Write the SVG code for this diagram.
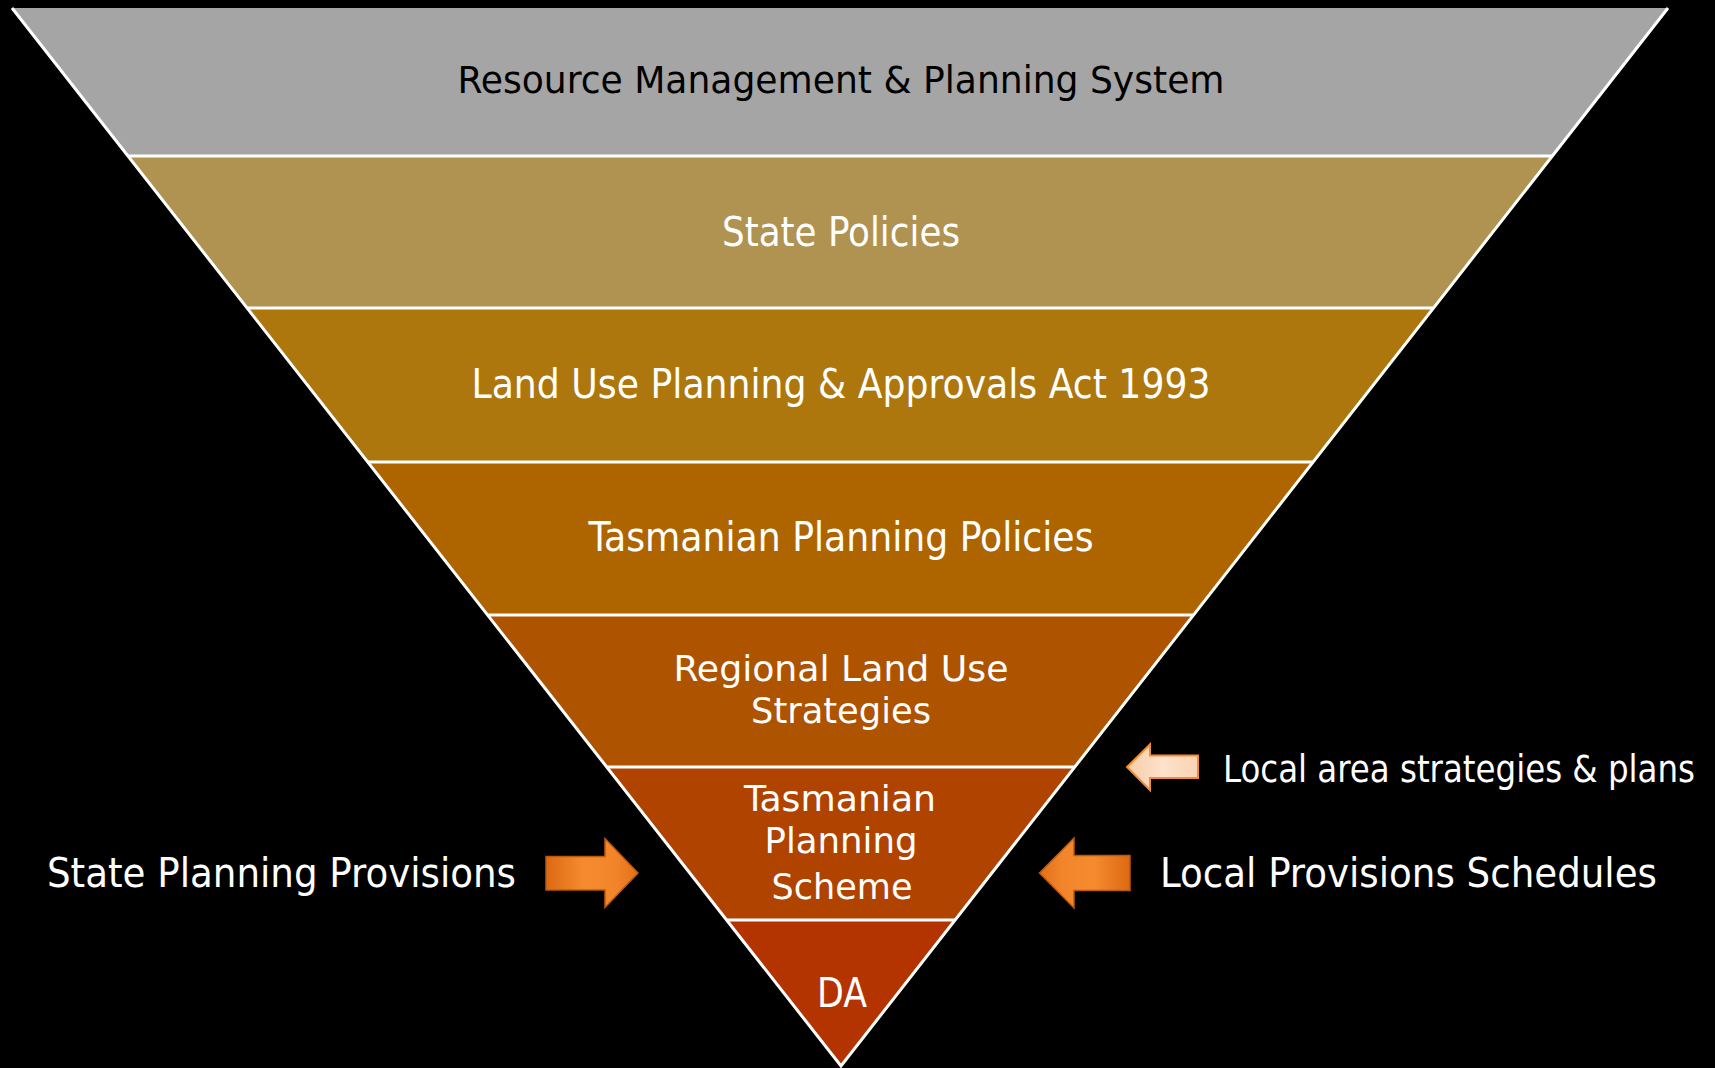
<svg xmlns="http://www.w3.org/2000/svg" width="1715" height="1068" viewBox="0 0 1715 1068">
  <defs>
    <linearGradient id="gArrowR" x1="0" y1="0" x2="1" y2="0">
      <stop offset="0" stop-color="#dc6912"/>
      <stop offset="0.4" stop-color="#f58b2e"/>
      <stop offset="0.75" stop-color="#f2852a"/>
      <stop offset="1" stop-color="#e36f18"/>
    </linearGradient>
    <linearGradient id="gArrowL" x1="1" y1="0" x2="0" y2="0">
      <stop offset="0" stop-color="#dc6912"/>
      <stop offset="0.4" stop-color="#f58b2e"/>
      <stop offset="0.75" stop-color="#f2852a"/>
      <stop offset="1" stop-color="#e36f18"/>
    </linearGradient>
    <linearGradient id="gArrowLight" x1="1" y1="0" x2="0" y2="0">
      <stop offset="0" stop-color="#fbd3b3"/>
      <stop offset="0.5" stop-color="#fde2cc"/>
      <stop offset="1" stop-color="#f9cba5"/>
    </linearGradient>
    <style>
      .band { stroke: none; }
      .sep { stroke: #ffffff; stroke-width: 3; fill: none; }
      .lbl { font-family: "DejaVu Sans", "Liberation Sans", sans-serif; font-stretch: condensed; font-size: 41px; fill: #ffffff; text-anchor: middle; }
      .lblL { font-family: "DejaVu Sans", "Liberation Sans", sans-serif; font-stretch: condensed; font-size: 41px; fill: #ffffff; }
      .multi { font-size: 36px; }
      .title { fill: #000000; font-size: 37px; }
      .small { font-size: 37px; }
      .bigArrow { stroke: #b9590f; stroke-width: 1.5; }
      .lightArrow { fill: url(#gArrowLight); stroke: #f28c35; stroke-width: 2; }
    </style>
  </defs>
  <rect width="1715" height="1068" fill="#000000"/>

  <g id="band-resource-management">
    <polygon class="band" points="12,8 1668,8 1552.3,156 128,156" fill="#a5a5a5"/>
    <text class="lbl title" x="841" y="93" textLength="767" lengthAdjust="spacingAndGlyphs">Resource Management &amp; Planning System</text>
  </g>
  <g id="band-state-policies">
    <polygon class="band" points="128,156 1552.3,156 1433.5,308 247.1,308" fill="#b09251"/>
    <text class="lbl" x="841" y="246" textLength="238" lengthAdjust="spacingAndGlyphs">State Policies</text>
  </g>
  <g id="band-lupaa">
    <polygon class="band" points="247.1,308 1433.5,308 1313.1,462 367.7,462" fill="#ad770e"/>
    <text class="lbl" x="841" y="398" textLength="739" lengthAdjust="spacingAndGlyphs">Land Use Planning &amp; Approvals Act 1993</text>
  </g>
  <g id="band-tpp">
    <polygon class="band" points="367.7,462 1313.1,462 1193.5,615 487.6,615" fill="#ae6500"/>
    <text class="lbl" x="841" y="551" textLength="505" lengthAdjust="spacingAndGlyphs">Tasmanian Planning Policies</text>
  </g>
  <g id="band-rlus">
    <polygon class="band" points="487.6,615 1193.5,615 1074.7,767 606.8,767" fill="#ae5300"/>
    <text class="lbl multi" x="841" y="681" textLength="335" lengthAdjust="spacingAndGlyphs">Regional Land Use</text>
    <text class="lbl multi" x="841" y="723" textLength="180" lengthAdjust="spacingAndGlyphs">Strategies</text>
  </g>
  <g id="band-tps">
    <polygon class="band" points="606.8,767 1074.7,767 955.1,920 726.6,920" fill="#b04300"/>
    <text class="lbl multi" x="840" y="811" textLength="192" lengthAdjust="spacingAndGlyphs">Tasmanian</text>
    <text class="lbl multi" x="841" y="853" textLength="153" lengthAdjust="spacingAndGlyphs">Planning</text>
    <text class="lbl multi" x="842" y="899" textLength="141" lengthAdjust="spacingAndGlyphs">Scheme</text>
  </g>
  <g id="band-da">
    <polygon class="band" points="726.6,920 955.1,920 841,1066" fill="#b33400"/>
    <text class="lbl" x="842" y="1007" textLength="50" lengthAdjust="spacingAndGlyphs">DA</text>
  </g>

  <g id="outline">
    <polyline class="sep" points="12,8 841,1066 1668,8"/>
    <line class="sep" x1="128" y1="156" x2="1552.3" y2="156"/>
    <line class="sep" x1="247.1" y1="308" x2="1433.5" y2="308"/>
    <line class="sep" x1="367.7" y1="462" x2="1313.1" y2="462"/>
    <line class="sep" x1="487.6" y1="615" x2="1193.5" y2="615"/>
    <line class="sep" x1="606.8" y1="767" x2="1074.7" y2="767"/>
    <line class="sep" x1="726.6" y1="920" x2="955.1" y2="920"/>
  </g>

  <g id="label-state-planning-provisions">
    <text class="lblL" x="47" y="887" textLength="469" lengthAdjust="spacingAndGlyphs">State Planning Provisions</text>
  </g>
  <g id="label-local-provisions-schedules">
    <text class="lblL" x="1160" y="887" textLength="497" lengthAdjust="spacingAndGlyphs">Local Provisions Schedules</text>
  </g>
  <g id="label-local-area-strategies">
    <text class="lblL small" x="1223" y="782" textLength="472" lengthAdjust="spacingAndGlyphs">Local area strategies &amp; plans</text>
  </g>

  <g id="connectors">
    <polygon class="bigArrow" fill="url(#gArrowR)" points="546,856.5 605,856.5 605,838.5 638,873 605,907.5 605,890 546,890"/>
    <polygon class="bigArrow" fill="url(#gArrowL)" points="1130,855.5 1074,855.5 1074,838 1039.5,873 1074,908 1074,890.5 1130,890.5"/>
    <polygon class="lightArrow" points="1198,755.5 1150,755.5 1150,744.5 1127,767 1150,790 1150,778 1198,778"/>
  </g>
</svg>
